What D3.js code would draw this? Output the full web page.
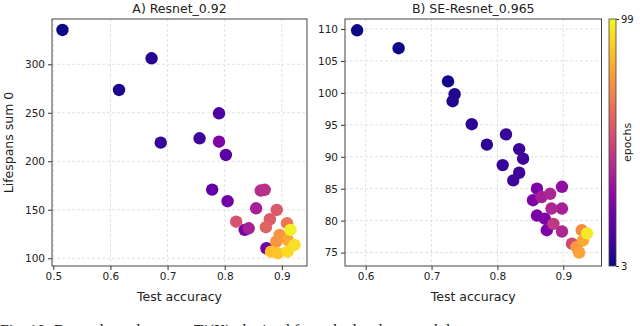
<!DOCTYPE html>
<html>
<head>
<meta charset="utf-8">
<script src="https://cdn.jsdelivr.net/npm/d3@7"></script>
<style>
  body { margin: 0; background: #fff; }
  text { font-family: "DejaVu Sans", sans-serif; fill: #222; }
</style>
</head>
<body>
<div id="chart"></div>
<script>
// A) Resnet_0.92 : test accuracy, lifespans sum, epoch
var accA   = [0.516, 0.615, 0.672, 0.688, 0.756, 0.790, 0.802, 0.778, 0.790, 0.805, 0.835, 0.873, 0.842, 0.855, 0.863, 0.870, 0.820, 0.891, 0.879, 0.872, 0.909, 0.896, 0.890, 0.910, 0.881, 0.893, 0.910, 0.922, 0.915];
var lifeA  = [335.4, 273.5, 306.2, 219.2, 223.7, 249.5, 206.5, 170.8, 220.2, 158.8, 129.2, 110.3, 130.9, 151.5, 169.8, 170.6, 137.7, 149.8, 140.2, 132.0, 136.1, 124.0, 117.1, 118.9, 106.8, 105.2, 106.8, 113.7, 129.2];
var epochA = [3, 5, 7, 10, 12, 15, 18, 20, 28, 24, 25, 24, 38, 38, 42, 44, 55, 57, 58, 60, 66, 75, 75, 80, 86, 87, 92, 93, 97];

// B) SE-Resnet_0.965
var accB   = [0.587, 0.650, 0.725, 0.735, 0.732, 0.761, 0.784, 0.813, 0.833, 0.839, 0.808, 0.833, 0.824, 0.860, 0.854, 0.860, 0.872, 0.875, 0.867, 0.898, 0.880, 0.882, 0.898, 0.885, 0.898, 0.913, 0.920, 0.924, 0.928, 0.930, 0.936];
var lifeB  = [109.8, 107.0, 101.8, 99.8, 98.7, 95.1, 91.9, 93.5, 91.2, 89.7, 88.7, 87.5, 86.3, 85.0, 83.2, 80.8, 80.3, 78.5, 83.7, 85.3, 84.2, 81.9, 81.9, 79.5, 78.3, 76.4, 75.9, 75.0, 78.5, 76.9, 78.0];
var epochB = [3, 3, 4, 6, 6, 8, 8, 10, 11, 12, 10, 12, 12, 26, 27, 26, 26, 27, 38, 32, 40, 40, 38, 46, 40, 52, 75, 78, 72, 80, 95];

var xTicksA = [0.5, 0.6, 0.7, 0.8, 0.9];
var yTicksA = [100, 150, 200, 250, 300];
var xTicksB = [0.6, 0.7, 0.8, 0.9];
var yTicksB = [75, 80, 85, 90, 95, 100, 105, 110];
var epochRange = [3, 99];

var width = 640, height = 326;
var plotTop = 19, plotBottom = 266;

var svg = d3.select("#chart").append("svg")
  .attr("width", width).attr("height", height);

var color = d3.scaleSequential(d3.interpolatePlasma).domain(epochRange);

function panel(acc, life, epoch, xDom, yDom, left, right, xTicks, yTicks, title, ylabel) {
  var x = d3.scaleLinear().domain(xDom).range([left, right]);
  var y = d3.scaleLinear().domain(yDom).range([plotBottom, plotTop]);
  var g = svg.append("g");

  // grid
  g.selectAll("line.gx").data(xTicks).enter().append("line")
    .attr("x1", function(d) { return x(d); }).attr("x2", function(d) { return x(d); })
    .attr("y1", plotTop).attr("y2", plotBottom)
    .attr("stroke", "#e2e2e2").attr("stroke-dasharray", "3,2");
  g.selectAll("line.gy").data(yTicks).enter().append("line")
    .attr("y1", function(d) { return y(d); }).attr("y2", function(d) { return y(d); })
    .attr("x1", left).attr("x2", right)
    .attr("stroke", "#e2e2e2").attr("stroke-dasharray", "3,2");

  var pts = d3.range(acc.length).map(function(i) {
    return {x: acc[i], y: life[i], e: epoch[i]};
  }).sort(function(a, b) { return a.e - b.e; });

  g.selectAll("circle").data(pts).enter().append("circle")
    .attr("cx", function(d) { return x(d.x); })
    .attr("cy", function(d) { return y(d.y); })
    .attr("r", 6.2)
    .attr("fill", function(d) { return color(d.e); });

  var xAxis = g.append("g").attr("transform", "translate(0," + plotBottom + ")")
    .call(d3.axisBottom(x).tickValues(xTicks).tickSize(4).tickPadding(3).tickFormat(d3.format(".1f")));
  var yAxis = g.append("g").attr("transform", "translate(" + left + ",0)")
    .call(d3.axisLeft(y).tickValues(yTicks).tickSize(4).tickPadding(3).tickFormat(d3.format("d")));
  [xAxis, yAxis].forEach(function(a) {
    a.select(".domain").remove();
    a.selectAll("line").attr("stroke", "#333");
    a.selectAll("text").attr("font-size", 10.5).attr("fill", "#222")
      .style("font-family", "DejaVu Sans, sans-serif");
  });

  g.append("rect").attr("x", left).attr("y", plotTop)
    .attr("width", right - left).attr("height", plotBottom - plotTop)
    .attr("fill", "none").attr("stroke", "#444").attr("stroke-width", 1);

  g.append("text").attr("x", (left + right) / 2).attr("y", 13)
    .attr("text-anchor", "middle").attr("font-size", 12.5).text(title);
  g.append("text").attr("x", (left + right) / 2).attr("y", 301)
    .attr("text-anchor", "middle").attr("font-size", 12.5).text("Test accuracy");
  if (ylabel) {
    g.append("text").attr("transform", "translate(13," + (plotTop + plotBottom) / 2 + ") rotate(-90)")
      .attr("text-anchor", "middle").attr("font-size", 12.5).text(ylabel);
  }
}

panel(accA, lifeA, epochA, [0.4977, 0.944], [92, 346.7], 52, 307, xTicksA, yTicksA, "A) Resnet_0.92", "Lifespans sum 0");
panel(accB, lifeB, epochB, [0.5686, 0.958], [72.9, 111.57], 345, 601.5, xTicksB, yTicksB, "B) SE-Resnet_0.965", null);

// colorbar
var defs = svg.append("defs");
var grad = defs.append("linearGradient").attr("id", "plasma")
  .attr("x1", 0).attr("y1", 1).attr("x2", 0).attr("y2", 0);
d3.range(0, 1.01, 0.1).forEach(function(t) {
  grad.append("stop").attr("offset", t).attr("stop-color", d3.interpolatePlasma(t));
});
var cb = d3.scaleLinear().domain(epochRange).range([plotBottom, plotTop]);
svg.append("rect").attr("x", 609).attr("y", plotTop).attr("width", 7).attr("height", plotBottom - plotTop)
  .attr("fill", "url(#plasma)").attr("stroke", "#444").attr("stroke-width", 0.8);
var cbAxis = svg.append("g").attr("transform", "translate(616,0)")
  .call(d3.axisRight(cb).tickValues(epochRange).tickSize(3).tickPadding(2));
cbAxis.select(".domain").remove();
cbAxis.selectAll("line").attr("stroke", "#333");
cbAxis.selectAll("text").attr("font-size", 10).attr("fill", "#222")
  .style("font-family", "DejaVu Sans, sans-serif");
svg.append("text").attr("transform", "translate(631," + (plotTop + plotBottom) / 2 + ") rotate(-90)")
  .attr("text-anchor", "middle").attr("font-size", 11).text("epochs");

// caption, cut off by the bottom edge
svg.append("text").attr("x", 0).attr("y", 336)
  .style("font-family", "Liberation Serif, serif").attr("font-size", 16).attr("fill", "#555")
  .text("Fig. 10: Dependence between T\u00b9(X) obtained from the last layer and the test accuracy");
</script>
</body>
</html>
